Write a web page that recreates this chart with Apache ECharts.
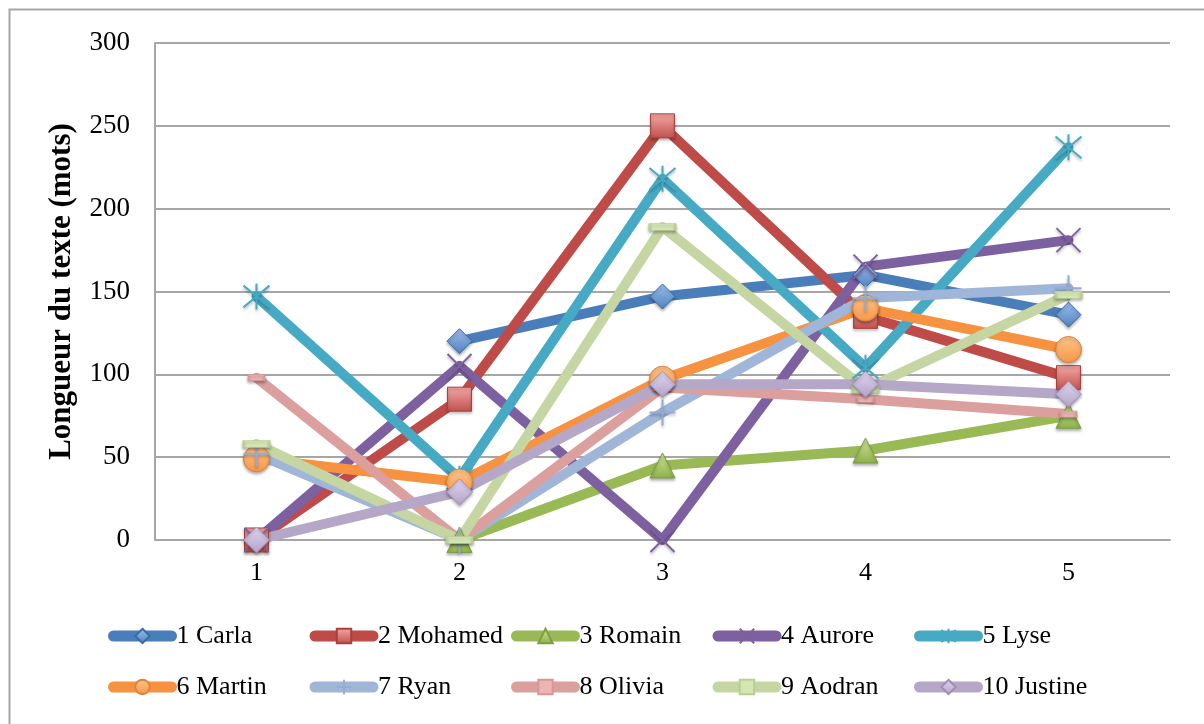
<!DOCTYPE html>
<html>
<head>
<meta charset="utf-8">
<script src="https://cdn.jsdelivr.net/npm/echarts@6/dist/echarts.min.js"></script>
<style>
html,body{margin:0;padding:0;background:#fff;}
#chart{width:1204px;height:724px;}
</style>
</head>
<body>
<div id="chart"></div>
<script>
// ---- data ----
const categories = ['1', '2', '3', '4', '5'];
const seriesNames = ['1 Carla', '2 Mohamed', '3 Romain', '4 Aurore', '5 Lyse',
                     '6 Martin', '7 Ryan', '8 Olivia', '9 Aodran', '10 Justine'];
const carla   = [null, 120, 147, 160, 136];
const mohamed = [0, 85, 250, 135, 98];
const romain  = [null, 0, 45, 54, 75];
const aurore  = [0, 105, 0, 165, 181];
const lyse    = [147, 37, 218, 104, 237];
const martin  = [49, 35, 97, 140, 115];
const ryan    = [52, 0, 77, 146, 152];
const olivia  = [98, 0, 92, 85, 76];
const aodran  = [58, 0, 189, 91, 148];
const justine = [0, 29, 94, 94, 88];
const yTicks  = { min: 0, max: 300, interval: 50 };
const yTitle  = 'Longueur du texte (mots)';

const allValues = [carla, mohamed, romain, aurore, lyse, martin, ryan, olivia, aodran, justine];

// ---- styles ----
const FONT = '"Liberation Serif", "DejaVu Serif", serif';
function grad(top, bottom) {
  return { type: 'linear', x: 0, y: 0, x2: 0, y2: 1,
           colorStops: [{ offset: 0, color: top }, { offset: 1, color: bottom }] };
}
const styles = [
  { line: '#4A7EBB', symbol: 'diamond', size: 25, fill: grad('#9DC0EE', '#4F81BD'), border: '#3A6BA8', bw: 1 },
  { line: '#BE4B48', symbol: 'rect', size: 24, fill: grad('#F4A9A6', '#C0504D'), border: '#A8403D', bw: 1 },
  { line: '#98B954', symbol: 'triangle', size: 25, fill: grad('#CFE79B', '#8DB04A'), border: '#7F9E42', bw: 1 },
  { line: '#7D60A0', symbol: 'path://M0,0L20,20M20,0L0,20', size: 24, fill: '#7D60A0', border: '#7D60A0', bw: 2 },
  { line: '#46AAC5', symbol: 'path://M0,0L20,20M20,0L0,20M10,-2L10,22', size: 26, fill: '#46AAC5', border: '#46AAC5', bw: 2 },
  { line: '#F69240', symbol: 'circle', size: 26, fill: grad('#FFC58C', '#F79646'), border: '#E0823A', bw: 1 },
  { line: '#A0B6D8', symbol: 'path://M10,0L10,20M0,10L20,10', size: 26, fill: '#95ADD3', border: '#95ADD3', bw: 2 },
  { line: '#DBA09D', symbol: 'path://M0,0L16,0L16,6L0,6Z', size: [16, 6], fill: '#EAB5B3', border: '#D99694', bw: 1 },
  { line: '#C5D6A3', symbol: 'path://M0,0L26,0L26,7L0,7Z', size: [26, 7], fill: '#D5E6B5', border: '#B9CF8E', bw: 1 },
  { line: '#B4A7C8', symbol: 'diamond', size: 26, fill: grad('#E0D6F2', '#B3A2C7'), border: '#9E8FB6', bw: 1 }
];

const series = seriesNames.map((name, i) => ({
  name: name,
  type: 'line',
  data: allValues[i],
  symbol: styles[i].symbol,
  symbolSize: styles[i].size,
  showAllSymbol: true,
  connectNulls: false,
  lineStyle: { color: styles[i].line, width: 10, cap: 'round', join: 'round' },
  itemStyle: {
    color: styles[i].fill,
    borderColor: styles[i].border,
    borderWidth: styles[i].bw,
    shadowColor: 'rgba(0,0,0,0.3)', shadowBlur: 3, shadowOffsetY: 2
  },
  emphasis: { disabled: true },
  animation: false
}));

const legendLeft0 = 108, legendStep = 201.5;
const legendRows = [623, 674];
const legends = seriesNames.map((name, i) => ({
  data: [name],
  left: legendLeft0 + (i % 5) * legendStep,
  top: legendRows[Math.floor(i / 5)],
  padding: 0,
  itemWidth: 58,
  itemHeight: 18,
  selectedMode: false,
  lineStyle: { width: 11, cap: 'round' },
  textStyle: { fontFamily: FONT, fontSize: 26, color: '#000' }
}));

const chart = echarts.init(document.getElementById('chart'), null, { renderer: 'canvas' });
chart.setOption({
  backgroundColor: '#fff',
  animation: false,
  graphic: [{
    type: 'rect', left: 7, top: 7, z: -1,
    shape: { width: 1400, height: 900 },
    style: { fill: 'none', stroke: '#A6A6A6', lineWidth: 2 }
  }],
  grid: { left: 155, right: 34, top: 43, bottom: 184, containLabel: false },
  legend: legends,
  xAxis: {
    type: 'category',
    data: categories,
    boundaryGap: true,
    axisLine: { show: true, lineStyle: { color: '#A6A6A6', width: 2 } },
    axisTick: { show: false },
    axisLabel: { fontFamily: FONT, fontSize: 26, color: '#000', margin: 20 }
  },
  yAxis: {
    type: 'value',
    min: yTicks.min, max: yTicks.max, interval: yTicks.interval,
    name: yTitle,
    nameLocation: 'middle',
    nameGap: 78,
    nameTextStyle: { fontFamily: FONT, fontSize: 31, fontWeight: 'bold', color: '#000' },
    axisLine: { show: true, lineStyle: { color: '#A6A6A6', width: 2 } },
    axisTick: { show: false },
    splitLine: { show: true, lineStyle: { color: '#A6A6A6', width: 2 } },
    axisLabel: { fontFamily: FONT, fontSize: 27, color: '#000', margin: 25 }
  },
  series: series
});
</script>
</body>
</html>
